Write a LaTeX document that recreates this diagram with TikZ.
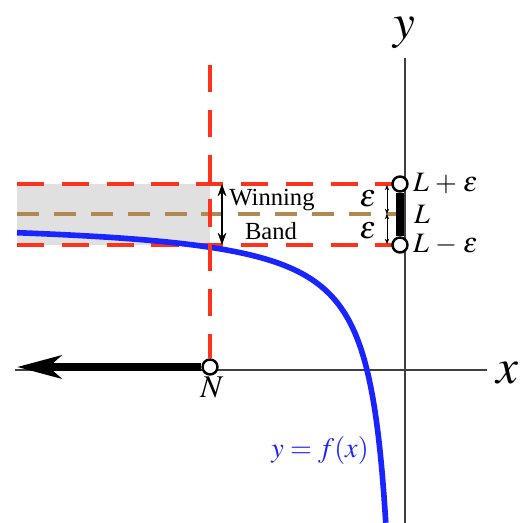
\documentclass[tikz,border=0pt]{standalone}
\usepackage{mathptmx}
\usepackage{fontspec}
\setmainfont{Liberation Serif}
\usetikzlibrary{arrows.meta}
\definecolor{bandred}{RGB}{255,51,28}
\definecolor{bandbrown}{RGB}{178,136,82}
\definecolor{curveblue}{RGB}{26,36,255}
\definecolor{bandgray}{RGB}{224,224,224}

\begin{document}
\begin{tikzpicture}[x=0.02cm, y=0.02cm,
  axis/.style={line width=0.9pt, black!75},
  reddash/.style={bandred, line width=2.2pt, dash pattern=on 15.5pt off 10pt},
  browndash/.style={bandbrown, line width=1.8pt, dash pattern=on 12.5pt off 8.5pt},
  openpt/.style={circle, draw=black, fill=white, line width=1.4pt, inner sep=0pt, minimum size=8.5pt},
  epsarrow/.style={{Stealth[length=3pt,width=2.5pt]}-{Stealth[length=3pt,width=2.5pt]}, line width=0.4pt},
  lbl/.style={font=\fontsize{16}{18}\selectfont, anchor=west, inner sep=1pt},
  biglbl/.style={font=\fontsize{28}{30}\selectfont, inner sep=0pt},
  bandtxt/.style={font=\fontsize{14}{16}\selectfont, inner sep=0pt}]
\useasboundingbox (-405,-153) rectangle (120,370);
% band shading and reference lines
\fill[bandgray] (-388,125) rectangle (-195,186);
\draw[axis] (-390,0) -- (82,0);
\draw[axis] (0,-153) -- (0,312);
\node[biglbl] (xlab) at (102,-3) {$x$};
\node[biglbl] (ylab) at (-1,337) {$y$};
\draw[browndash] (-388,156) -- (-6,156);
\draw[reddash] (-388,186) -- (-6,186);
\draw[reddash] (-388,125) -- (-6,125);
% the curve
\draw[curveblue, line width=3.2pt, domain=-388:-19.2, samples=200, variable=\t]
  plot (\t, {152 - 5700/(-0.5 - \t)});
\node[curveblue, font=\fontsize{16}{18}\selectfont] (flab) at (-85,-80) {$y=f(x)$};
% threshold N
\node[openpt] (N) at (-195,3) {};
\draw[reddash] (-195,305) -- (N.north);
\coordinate (tail) at (-388,3);
\draw[line width=4.8pt, -{Stealth[length=25pt, width=13pt, inset=7pt]}] (N.west) -- (tail);
\node[font=\fontsize{18}{20}\selectfont] (Nlab) at (-193,-18) {$N$};
% L and epsilon
\node[openpt] (Lp) at (-5,186) {};
\node[openpt] (Lm) at (-5,125) {};
\draw[line width=4pt] (Lp.south) -- (Lm.north);
\node[lbl] (Lplab) at (6,186) {$L\mathrel{+}\varepsilon$};
\node[lbl] (Llab) at (7,156) {$L$};
\node[lbl] (Lmlab) at (6,125) {$L\mathrel{-}\varepsilon$};
\coordinate (et) at (-18,185);
\coordinate (em) at (-18,156);
\coordinate (eb) at (-18,126);
\draw[epsarrow] (et) -- (em);
\draw[epsarrow] (em) -- (eb);
\node[font=\fontsize{18}{20}\selectfont] (e1) at (-37,171) {$\varepsilon$};
\node[font=\fontsize{18}{20}\selectfont] (e2) at (-37,139) {$\varepsilon$};
% winning band
\coordinate (wt) at (-183,186);
\coordinate (wb) at (-183,125);
\draw[{Stealth[length=7pt,width=5pt]}-{Stealth[length=7pt,width=5pt]}, line width=0.9pt] (wt) -- (wb);
\node[bandtxt] (win) at (-133,170) {Winning};
\node[bandtxt] (band) at (-134,139) {Band};
\end{tikzpicture}
\end{document}
